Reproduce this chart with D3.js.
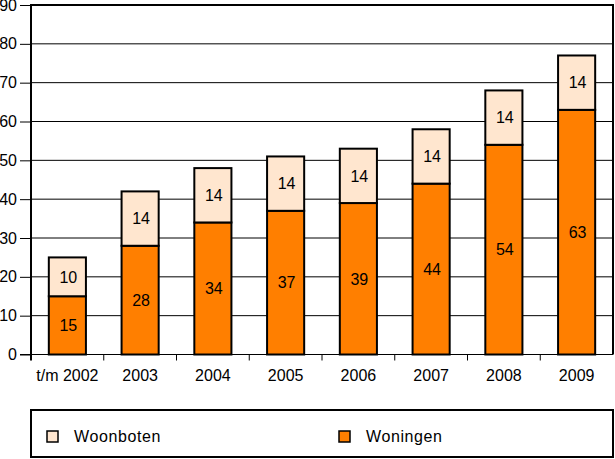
<!DOCTYPE html>
<html><head><meta charset="utf-8">
<script src="https://cdn.jsdelivr.net/npm/d3@7"></script>
<style>body{margin:0;background:#fff}svg{display:block;font-family:"Liberation Sans",Arial,sans-serif}</style>
</head><body><svg id="c" width="615" height="459"></svg>
<script>
const categories = ["t/m 2002","2003","2004","2005","2006","2007","2008","2009"];
const woningen = [15,28,34,37,39,44,54,63];
const woonboten = [10,14,14,14,14,14,14,14];
const yTicks = [0,10,20,30,40,50,60,70,80,90];
const seriesNames = ["Woonboten","Woningen"];
const colors = {Woningen:"#FF7F00", Woonboten:"#FFE6CF"};

const svg = d3.select("#c");
const L=31, R=613, T=5, B=354.5;
const FS = 16;
const x = d3.scaleBand().domain(categories).range([L,R]).paddingInner(0.49).paddingOuter(0.245);
const xb = d3.scaleBand().domain(categories).range([L,R]);
const y = d3.scaleLinear().domain([0,90]).range([B,T]);

// gridlines
svg.append("g").selectAll("line").data(yTicks.filter(d=>d>0)).join("line")
  .attr("x1",L).attr("x2",R).attr("y1",d=>y(d)).attr("y2",d=>y(d))
  .attr("stroke","#000").attr("stroke-width",1);

// y axis
const ya = svg.append("g").attr("transform",`translate(${L},0)`)
  .call(d3.axisLeft(y).tickValues(yTicks).tickSize(11).tickPadding(3));
ya.select(".domain").remove();
ya.selectAll(".tick line").attr("stroke","#000").attr("stroke-width",1);
ya.selectAll("text").attr("font-size",FS).attr("fill","#000").attr("font-family","Liberation Sans, Arial, sans-serif");

// x axis ticks at boundaries
const bounds = categories.slice(1).map(c=>xb(c));
svg.append("g").selectAll("line").data(bounds).join("line")
  .attr("x1",d=>d).attr("x2",d=>d).attr("y1",B).attr("y2",B+6)
  .attr("stroke","#000").attr("stroke-width",1);
svg.append("g").selectAll("text").data(categories).join("text")
  .attr("x",d=>x(d)+x.bandwidth()/2).attr("y",381)
  .attr("text-anchor","middle").attr("font-size",FS).attr("fill","#000").text(d=>d);

// bars
const rows = categories.map((c,i)=>({cat:c, Woningen:woningen[i], Woonboten:woonboten[i]}));
const stack = d3.stack().keys(["Woningen","Woonboten"])(rows);
stack.forEach(s=>{
  const g = svg.append("g");
  g.selectAll("rect").data(s).join("rect")
    .attr("x",d=>x(d.data.cat)).attr("width",x.bandwidth())
    .attr("y",d=>y(d[1])).attr("height",d=>y(d[0])-y(d[1]))
    .attr("fill",colors[s.key]).attr("stroke","#000").attr("stroke-width",2);
  g.selectAll("text").data(s).join("text")
    .attr("x",d=>x(d.data.cat)+x.bandwidth()/2+1).attr("y",d=>(y(d[0])+y(d[1]))/2)
    .attr("dy","0.36em").attr("text-anchor","middle").attr("font-size",FS).attr("fill","#000")
    .text(d=>d.data[s.key]);
});

// plot border
svg.append("path").attr("d",`M${L},${B+6}V${T}H${R}V${B}`).attr("fill","none").attr("stroke","#000").attr("stroke-width",2);
svg.append("line").attr("x1",L-11).attr("x2",R).attr("y1",B).attr("y2",B).attr("stroke","#000").attr("stroke-width",1);

// legend
svg.append("rect").attr("x",31).attr("y",410).attr("width",582).attr("height",47)
  .attr("fill","#fff").attr("stroke","#000").attr("stroke-width",2);
const lx = [47,339];
const lg = svg.append("g").selectAll("g").data(seriesNames).join("g")
  .attr("transform",(d,i)=>`translate(${lx[i]},431)`);
lg.append("rect").attr("width",11).attr("height",11).attr("fill",d=>colors[d]).attr("stroke","#000").attr("stroke-width",1.5);
lg.append("text").attr("x",27).attr("y",5.5).attr("dy","0.36em").attr("font-size",FS).attr("letter-spacing",0.6).attr("fill","#000").text(d=>d);
</script></body></html>
